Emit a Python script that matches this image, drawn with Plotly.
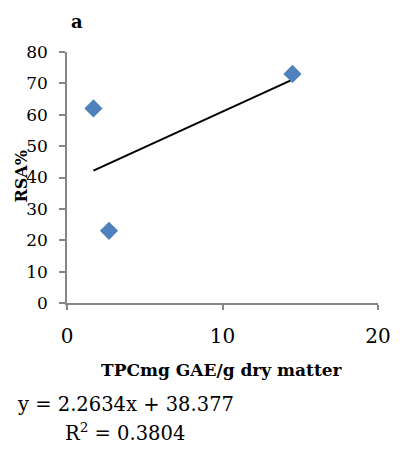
import plotly.graph_objects as go

tpc = [1.7, 2.7, 14.5]
rsa = [62, 23, 73]
trend_x = [1.7, 14.5]
trend_y = [42.2, 71.2]
x_ticks = [0, 10, 20]
y_ticks = [0, 10, 20, 30, 40, 50, 60, 70, 80]

SERIF = "DejaVu Serif"
AXC = "#868686"

fig = go.Figure()
fig.add_trace(go.Scatter(x=trend_x, y=trend_y, mode="lines",
                         line=dict(color="black", width=2), showlegend=False))
fig.add_trace(go.Scatter(x=tpc, y=rsa, mode="markers",
                         marker=dict(symbol="diamond", size=14, color="#4F81BD"),
                         showlegend=False))

fig.update_layout(
    width=403, height=470,
    margin=dict(l=67, r=15, t=52, b=167),
    paper_bgcolor="white", plot_bgcolor="white",
    font=dict(family=SERIF, color="black"),
    xaxis=dict(range=[0, 20], tickvals=x_ticks, showgrid=False, zeroline=False,
               showline=True, linecolor=AXC, linewidth=1.5,
               ticks="outside", ticklen=5, tickcolor=AXC, tickwidth=1.5,
               tickfont=dict(size=20, family=SERIF), ticklabelstandoff=9),
    yaxis=dict(range=[0, 80], tickvals=y_ticks, showgrid=False, zeroline=False,
               showline=True, linecolor=AXC, linewidth=1.5,
               ticks="outside", ticklen=6, tickcolor=AXC, tickwidth=1.5,
               tickfont=dict(size=17, family=SERIF), ticklabelstandoff=8),
)

def note(text, x, y, size, angle=0):
    fig.add_annotation(text=text, xref="paper", yref="paper", x=x, y=y,
                       xanchor="center", yanchor="middle", textangle=angle,
                       showarrow=False, font=dict(size=size, family=SERIF))

note("<b>a</b>", 0.031, 1.12, 18)
note("<b>RSA%</b>", -0.146, 0.502, 16, -90)
note("<b>TPCmg GAE/g dry matter</b>", 0.498, -0.267, 17)
note("y = 2.2634x + 38.377", 0.187, -0.406, 19.5)
note("R<sup>2</sup> = 0.3804", 0.187, -0.514, 19.5)

fig.write_html("out.html")
